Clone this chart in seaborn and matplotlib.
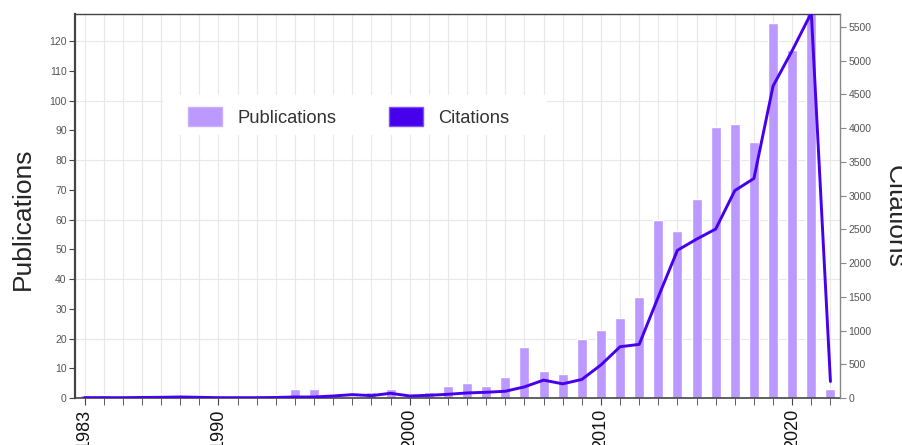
import pandas as pd
import seaborn as sns
import matplotlib.pyplot as plt
from matplotlib.patches import Patch, Rectangle

years = [1983, 1984, 1985, 1986, 1987, 1988, 1989, 1990, 1991, 1992,
         1993, 1994, 1995, 1996, 1997, 1998, 1999, 2000, 2001, 2002,
         2003, 2004, 2005, 2006, 2007, 2008, 2009, 2010, 2011, 2012,
         2013, 2014, 2015, 2016, 2017, 2018, 2019, 2020, 2021, 2022]
publications = [1, 1, 0, 0, 0, 0, 0, 0, 0, 0,
                1, 3, 3, 0, 0, 2, 3, 0, 2, 4,
                5, 4, 7, 17, 9, 8, 20, 23, 27, 34,
                60, 56, 67, 91, 92, 86, 126, 117, 131, 3]
citations = [5, 5, 5, 8, 10, 15, 10, 5, 5, 5,
             8, 15, 15, 30, 50, 35, 70, 30, 40, 55,
             75, 85, 100, 165, 265, 210, 275, 490, 760, 795,
             1500, 2190, 2355, 2505, 3075, 3255, 4625, 5150, 5710, 245]
year_labels = [1983, 1990, 2000, 2010, 2020]

bar_col = "#bb99ff"
line_col = "#4600ec"

df = pd.DataFrame({"Year": years, "Publications": publications,
                   "Citations": citations})

sns.set_style("white")
plt.rcParams["font.family"] = ["Liberation Sans", "DejaVu Sans"]

fig = plt.figure(figsize=(9.03, 4.45), dpi=100)
ax = fig.add_axes([75/903, 1-398/445, (840-75)/903, (398-14)/445])

sns.barplot(data=df, x="Year", y="Publications", native_scale=True,
            color=bar_col, width=0.52, saturation=1, ax=ax, zorder=2)
ax.set_xlim(1982.5, 2022.5)
ax.set_ylim(0, 129.1)
ax.set_yticks(range(0, 121, 10))
ax.set_xticks(year_labels)
ax.set_xticks(years, minor=True)
ax.set_xticklabels([str(y) for y in year_labels], rotation=90, fontsize=13,
                   color="#111")
ax.tick_params(axis="y", labelsize=7.5, labelcolor="#555", length=4,
               color="#444", left=True, pad=2)
ax.tick_params(axis="x", which="both", length=5, color="#444", bottom=True,
               pad=3)
ax.set_axisbelow(True)
ax.grid(False)
ax.xaxis.grid(True, which="both", color="#e8e8e8", lw=0.8)
for v in range(20, 121, 20):
    ax.axhline(v, color="#e8e8e8", lw=0.8, zorder=0)
ax.set_xlabel("")
ax.set_ylabel("")
for s in ["left", "bottom", "top"]:
    ax.spines[s].set_color("#444")
ax.spines["left"].set_linewidth(1.6)
ax.spines["bottom"].set_linewidth(1.2)
ax.spines["top"].set_linewidth(1.0)
ax.spines["right"].set_visible(False)

ax2 = ax.twinx()
sns.lineplot(data=df, x="Year", y="Citations", color=line_col, lw=2.1,
             ax=ax2)
ax2.set_ylim(0, 5693)
ax2.set_yticks(range(0, 5501, 500))
ax2.tick_params(axis="y", labelsize=7.5, labelcolor="#555", length=4,
                color="#888", right=True, pad=2)
ax2.set_ylabel("")
ax2.set_xlim(1982.5, 2022.5)
ax2.spines["right"].set_color("#888")
ax2.spines["right"].set_linewidth(1.0)
for s in ["left", "bottom", "top"]:
    ax2.spines[s].set_visible(False)

fig.text(23/903, 1-219/445, "Publications", rotation=90, fontsize=19,
         ha="center", va="center")
fig.text(895/903, 1-216/445, "Citations", rotation=270, fontsize=19,
         ha="center", va="center")

# white box behind the legend (wider than tall, like the original)
ax2.add_patch(Rectangle((163/903, 1-135/445), 384/903, 40/445,
                        transform=fig.transFigure, facecolor="white",
                        edgecolor="none", zorder=4, clip_on=False))

handles = [Patch(facecolor=bar_col, edgecolor="#c9b0ff", label="Publications"),
           Patch(facecolor=line_col, edgecolor="#7a50ff", label="Citations")]
leg = ax2.legend(handles=handles, ncol=2, loc="center left",
                 bbox_to_anchor=((188-75)/765, (398-117)/384),
                 fontsize=13.2, frameon=False, borderpad=0, borderaxespad=0,
                 handlelength=1.85, handleheight=1.25, handletextpad=0.85,
                 columnspacing=2.85)
leg.set_zorder(5)
for t in leg.get_texts():
    t.set_color("#333")

fig.savefig("out.png", dpi=100)
